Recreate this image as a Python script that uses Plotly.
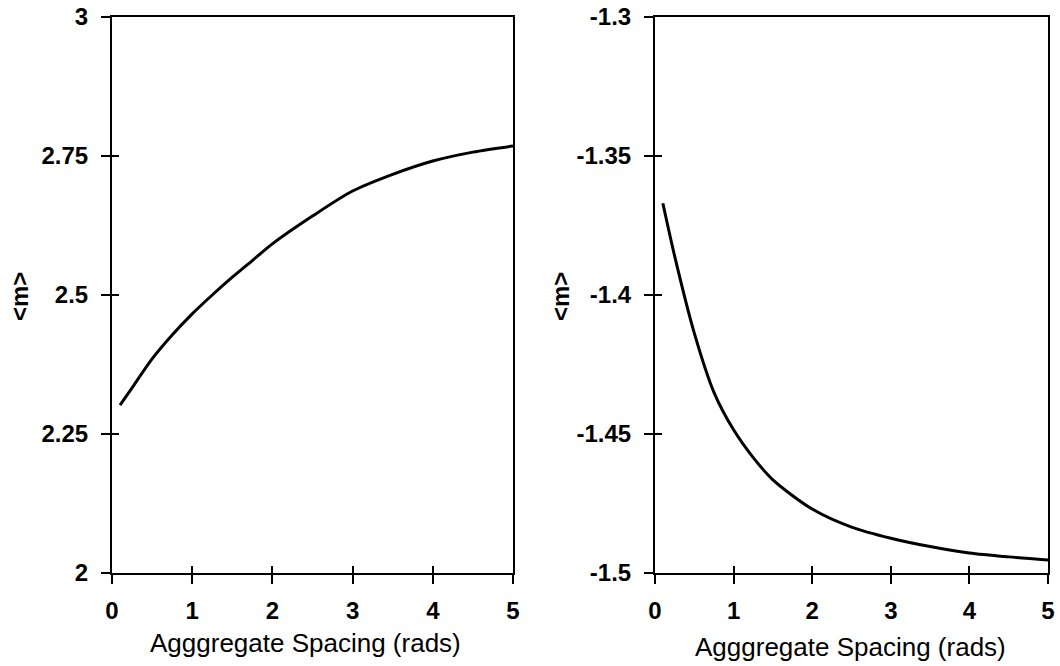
import plotly.graph_objects as go

# ---- data ----
spacing_left = [0.1, 0.25, 0.5, 0.75, 1.0, 1.25, 1.5, 1.75, 2.0, 2.5, 3.0, 3.5, 4.0, 4.5, 5.0]
m_left = [2.302, 2.333, 2.385, 2.428, 2.466, 2.500, 2.532, 2.562, 2.592,
          2.642, 2.687, 2.717, 2.741, 2.757, 2.768]

spacing_right = [0.1, 0.25, 0.5, 0.75, 1.0, 1.25, 1.5, 2.0, 2.5, 3.0, 3.5, 4.0, 4.5, 5.0]
m_right = [-1.367, -1.386, -1.4137, -1.435, -1.4485, -1.4585, -1.4665, -1.477, -1.4835,
           -1.4875, -1.4905, -1.4928, -1.4942, -1.4953]

x_ticks = [0, 1, 2, 3, 4, 5]
x_ticktext = ["0", "1", "2", "3", "4", "5"]
yl_ticks = [2, 2.25, 2.5, 2.75, 3]
yl_ticktext = ["2", "2.25", "2.5", "2.75", "3"]
yr_ticks = [-1.5, -1.45, -1.4, -1.35, -1.3]
yr_ticktext = ["-1.5", "-1.45", "-1.4", "-1.35", "-1.3"]

x_title = "Agggregate Spacing (rads)"
y_title = "<m>"

FONT = "Liberation Sans, Arial, sans-serif"
tickfont = dict(family=FONT, size=24, color="black", weight="bold")

# body margin is removed via post_script, so the figure fills the full window
W, H = 1060, 666


def px(x):
    return x / W


def py(y):
    return 1 - y / H


fig = go.Figure()
fig.add_trace(go.Scatter(x=spacing_left, y=m_left, mode="lines",
                         line=dict(color="black", width=3, shape="spline", smoothing=0.8),
                         xaxis="x", yaxis="y", showlegend=False))
fig.add_trace(go.Scatter(x=spacing_right, y=m_right, mode="lines",
                         line=dict(color="black", width=3, shape="spline", smoothing=0.8),
                         xaxis="x2", yaxis="y2", showlegend=False))

ldom = [px(112), px(513)]
rdom = [px(655), px(1048)]
ydom = [py(573), py(17)]

common_axis = dict(showgrid=False, zeroline=False, showline=True, linecolor="black",
                   linewidth=2, mirror=True, ticks="outside", ticklen=9,
                   tickwidth=1.5, tickcolor="black", tickfont=tickfont,
                   automargin=False, fixedrange=True, ticklabeloverflow="allow")
inner_axis = dict(showgrid=False, zeroline=False, showline=False, ticks="inside",
                  ticklen=7, tickwidth=1.5, tickcolor="black", showticklabels=False,
                  automargin=False, fixedrange=True)

layout = dict(
    width=W, height=H,
    margin=dict(l=0, r=0, t=0, b=0),
    paper_bgcolor="white", plot_bgcolor="white",
    showlegend=False,
    xaxis=dict(common_axis, domain=ldom, range=[0, 5], tickvals=x_ticks,
               ticktext=x_ticktext, anchor="y", ticklabelstandoff=6),
    yaxis=dict(common_axis, domain=ydom, range=[2, 3], tickvals=yl_ticks,
               ticktext=yl_ticktext, anchor="x", ticklabelstandoff=8),
    xaxis2=dict(common_axis, domain=rdom, range=[0, 5], tickvals=x_ticks,
                ticktext=x_ticktext, anchor="y2", ticklabelstandoff=6),
    yaxis2=dict(common_axis, domain=ydom, range=[-1.5, -1.3], tickvals=yr_ticks,
                ticktext=yr_ticktext, anchor="x2", ticklabelstandoff=8),
    xaxis3=dict(inner_axis, overlaying="x", anchor="y", range=[0, 5], tickvals=x_ticks),
    yaxis3=dict(inner_axis, overlaying="y", anchor="x", range=[2, 3], tickvals=yl_ticks),
    xaxis4=dict(inner_axis, overlaying="x2", anchor="y2", range=[0, 5], tickvals=x_ticks),
    yaxis4=dict(inner_axis, overlaying="y2", anchor="x2", range=[-1.5, -1.3], tickvals=yr_ticks),
)
fig.update_layout(**layout)

# invisible traces so overlay axes are drawn
fig.add_trace(go.Scatter(x=[None], y=[None], xaxis="x3", yaxis="y3", showlegend=False, hoverinfo="skip"))
fig.add_trace(go.Scatter(x=[None], y=[None], xaxis="x4", yaxis="y4", showlegend=False, hoverinfo="skip"))

titlefont = dict(family=FONT, size=26, color="black")
fig.add_annotation(text=x_title, xref="paper", yref="paper", x=px(305), y=py(643),
                   showarrow=False, font=titlefont, xanchor="center", yanchor="middle")
fig.add_annotation(text=x_title, xref="paper", yref="paper", x=px(850), y=py(647),
                   showarrow=False, font=titlefont, xanchor="center", yanchor="middle")
yfont = dict(family=FONT, size=24, color="black", weight="bold")
fig.add_annotation(text=y_title, xref="paper", yref="paper", x=px(19), y=py(297),
                   showarrow=False, font=yfont,
                   textangle=-90, xanchor="center", yanchor="middle")
fig.add_annotation(text=y_title, xref="paper", yref="paper", x=px(560), y=py(297),
                   showarrow=False, font=yfont,
                   textangle=-90, xanchor="center", yanchor="middle")

fig.write_html("out.html",
               config={"displayModeBar": False},
               post_script="document.body.style.margin='0';document.body.style.overflow='hidden';")
